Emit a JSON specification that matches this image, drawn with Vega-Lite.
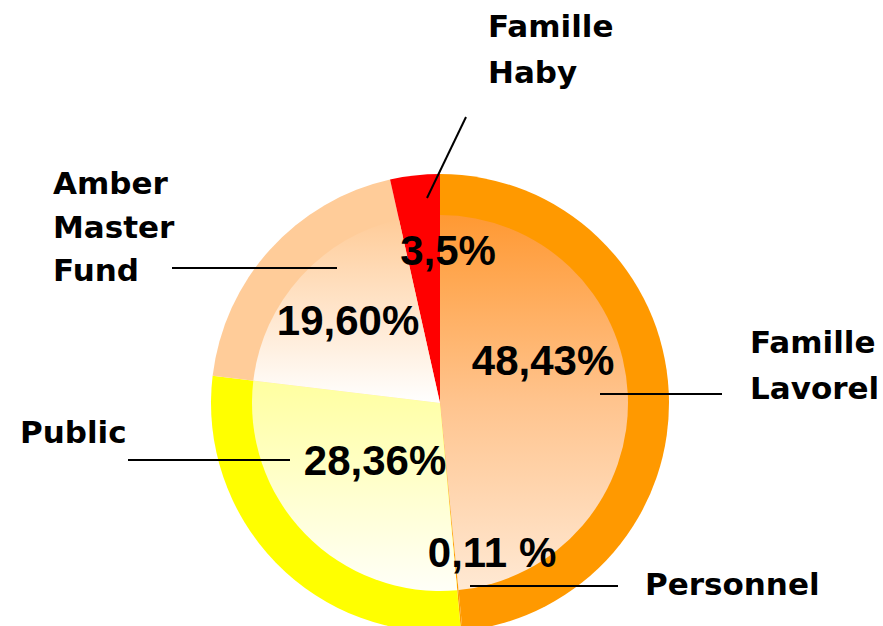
{
  "$schema": "https://vega.github.io/schema/vega-lite/v6.json",
  "width": 883,
  "height": 626,
  "autosize": {"type": "none"},
  "padding": 0,
  "background": "white",
  "config": {"view": {"stroke": null}},
  "datasets": {
    "slices": [
      {"name": "Famille Lavorel", "value": 48.43, "order": 1},
      {"name": "Personnel", "value": 0.11, "order": 2},
      {"name": "Public", "value": 28.36, "order": 3},
      {"name": "Amber Master Fund", "value": 19.6, "order": 4},
      {"name": "Famille Haby", "value": 3.5, "order": 5}
    ],
    "names": [
      {"label": "Famille\nHaby", "x": 48, "y": 366, "group": "a"},
      {"label": "Famille\nLavorel", "x": 310, "y": 50, "group": "a"},
      {"label": "Amber\nMaster\nFund", "x": -387, "y": 209, "group": "b"},
      {"label": "Public", "x": -420, "y": -40, "group": "a"},
      {"label": "Personnel", "x": 205, "y": -192, "group": "a"}
    ],
    "pcts": [
      {"label": "3,5%", "x": 8, "y": 138},
      {"label": "19,60%", "x": -92, "y": 68},
      {"label": "48,43%", "x": 103, "y": 28},
      {"label": "28,36%", "x": -65, "y": -72},
      {"label": "0,11 %", "x": 52, "y": -164}
    ],
    "leaders": [
      {"x": 26, "y": 286, "x2": -13, "y2": 205},
      {"x": -268, "y": 135, "x2": -103, "y2": 135},
      {"x": 160, "y": 9, "x2": 282, "y2": 9},
      {"x": -312, "y": -57, "x2": -150, "y2": -57},
      {"x": 30, "y": -183, "x2": 178, "y2": -183}
    ]
  },
  "layer": [
    {
      "data": {"name": "slices"},
      "transform": [{"stack": "value", "groupby": [], "sort": [{"field": "order", "order": "ascending"}], "as": ["v0", "v1"]}],
      "mark": {"type": "arc", "radius": 229, "stroke": null},
      "encoding": {
        "x": {"datum": 0, "type": "quantitative", "scale": {"domain": [-440, 443], "nice": false, "zero": false}, "axis": null},
        "y": {"datum": 0, "type": "quantitative", "scale": {"domain": [-223, 403], "nice": false, "zero": false}, "axis": null},
        "theta": {"field": "v0", "type": "quantitative", "stack": null, "scale": {"domain": [0, 100], "range": [0, 6.283185307]}},
        "theta2": {"field": "v1"},
        "color": {"field": "name", "type": "nominal", "legend": null,
          "scale": {"domain": ["Famille Lavorel", "Personnel", "Public", "Amber Master Fund", "Famille Haby"],
                    "range": ["#FF9900", "#FF9900", "#FFFF00", "#FFCC99", "#FF0000"]}}
      }
    },
    {
      "data": {"name": "slices"},
      "transform": [
        {"stack": "value", "groupby": [], "sort": [{"field": "order", "order": "ascending"}], "as": ["v0", "v1"]},
        {"filter": "datum.name === 'Famille Lavorel'"}
      ],
      "mark": {"type": "arc", "radius": 188, "stroke": null,
        "fill": {"gradient": "linear", "x1": 0, "y1": 0, "x2": 0, "y2": 1,
          "stops": [{"offset": 0, "color": "#FF9933"}, {"offset": 0.5, "color": "#FFC48E"}, {"offset": 1, "color": "#FFE9D4"}]}},
      "encoding": {
        "x": {"datum": 0, "type": "quantitative"},
        "y": {"datum": 0, "type": "quantitative"},
        "theta": {"field": "v0", "type": "quantitative", "stack": null},
        "theta2": {"field": "v1"}
      }
    },
    {
      "data": {"name": "slices"},
      "transform": [
        {"stack": "value", "groupby": [], "sort": [{"field": "order", "order": "ascending"}], "as": ["v0", "v1"]},
        {"filter": "datum.name === 'Public'"}
      ],
      "mark": {"type": "arc", "radius": 188, "stroke": null,
        "fill": {"gradient": "linear", "x1": 0, "y1": 0, "x2": 0, "y2": 1,
          "stops": [{"offset": 0, "color": "#FFFFA0"}, {"offset": 1, "color": "#FFFFF8"}]}},
      "encoding": {
        "x": {"datum": 0, "type": "quantitative"},
        "y": {"datum": 0, "type": "quantitative"},
        "theta": {"field": "v0", "type": "quantitative", "stack": null},
        "theta2": {"field": "v1"}
      }
    },
    {
      "data": {"name": "slices"},
      "transform": [
        {"stack": "value", "groupby": [], "sort": [{"field": "order", "order": "ascending"}], "as": ["v0", "v1"]},
        {"filter": "datum.name === 'Amber Master Fund'"}
      ],
      "mark": {"type": "arc", "radius": 188, "stroke": null,
        "fill": {"gradient": "linear", "x1": 0, "y1": 0, "x2": 0, "y2": 1,
          "stops": [{"offset": 0, "color": "#FFCC99"}, {"offset": 1, "color": "#FFFFFF"}]}},
      "encoding": {
        "x": {"datum": 0, "type": "quantitative"},
        "y": {"datum": 0, "type": "quantitative"},
        "theta": {"field": "v0", "type": "quantitative", "stack": null},
        "theta2": {"field": "v1"}
      }
    },
    {
      "data": {"name": "leaders"},
      "mark": {"type": "rule", "color": "#000000", "strokeWidth": 2},
      "encoding": {
        "x": {"field": "x", "type": "quantitative"},
        "y": {"field": "y", "type": "quantitative"},
        "x2": {"field": "x2"},
        "y2": {"field": "y2"}
      }
    },
    {
      "data": {"name": "names"},
      "transform": [{"filter": "datum.group === 'a'"}],
      "mark": {"type": "text", "align": "left", "baseline": "alphabetic", "font": "DejaVu Sans", "fontWeight": "bold", "fontSize": 31, "lineBreak": "\n", "lineHeight": 46, "color": "#000000"},
      "encoding": {
        "x": {"field": "x", "type": "quantitative"},
        "y": {"field": "y", "type": "quantitative"},
        "text": {"field": "label"}
      }
    },
    {
      "data": {"name": "names"},
      "transform": [{"filter": "datum.group === 'b'"}],
      "mark": {"type": "text", "align": "left", "baseline": "alphabetic", "font": "DejaVu Sans", "fontWeight": "bold", "fontSize": 31, "lineBreak": "\n", "lineHeight": 43.5, "color": "#000000"},
      "encoding": {
        "x": {"field": "x", "type": "quantitative"},
        "y": {"field": "y", "type": "quantitative"},
        "text": {"field": "label"}
      }
    },
    {
      "data": {"name": "pcts"},
      "mark": {"type": "text", "align": "center", "baseline": "alphabetic", "font": "Liberation Sans", "fontWeight": "bold", "fontSize": 42, "color": "#000000"},
      "encoding": {
        "x": {"field": "x", "type": "quantitative"},
        "y": {"field": "y", "type": "quantitative"},
        "text": {"field": "label"}
      }
    }
  ]
}
